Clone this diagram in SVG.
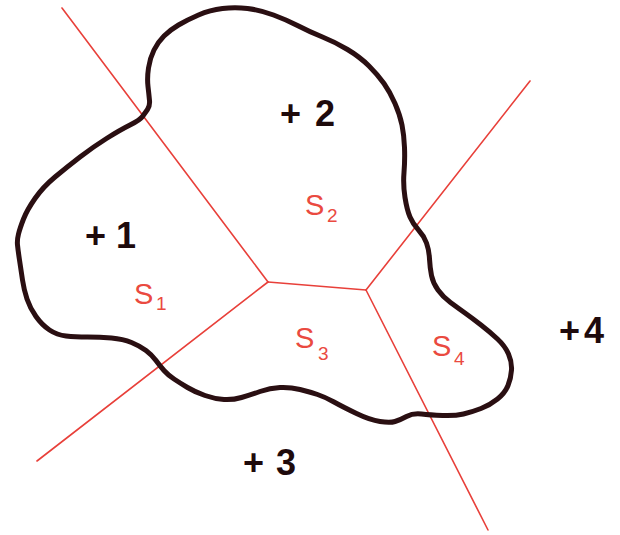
<svg xmlns="http://www.w3.org/2000/svg" width="620" height="535" viewBox="0 0 620 535">
<style>
.red{stroke:#e8403a;stroke-width:1.6;fill:none;stroke-linecap:round}
.blob{stroke:#2a0f12;stroke-width:5;fill:none;stroke-linejoin:round;stroke-linecap:round}
.pt{font-family:"Liberation Sans",Arial,sans-serif;font-weight:bold;font-size:36px;fill:#1e0a0c}
.lab{font-family:"Liberation Sans",Arial,sans-serif;font-size:29px;fill:#ea4a40}
.sub{font-size:19px}
</style>
<rect width="620" height="535" fill="#ffffff"/>
<g id="voronoi-edges">
<line class="red" x1="62" y1="8" x2="268" y2="282"/>
<line class="red" x1="268" y1="282" x2="37" y2="461"/>
<line class="red" x1="268" y1="282" x2="366" y2="290"/>
<line class="red" x1="366" y1="290" x2="530" y2="81"/>
<line class="red" x1="366" y1="290" x2="488" y2="530"/>
</g>
<g id="region">
<path class="blob" d="M142.5,116.5 Q145,113 147.5,109.5 Q150,106 149.5,100.5 Q149,95 148,86.5 Q147,78 148.5,68 Q150,58 154,50 Q158,42 164,36 Q170,30 178.5,25 Q187,20 198.5,15 Q210,10 222.5,8.5 Q235,7 247.5,8.5 Q260,10 273.5,15 Q287,20 298.5,26 Q310,32 322.5,37 Q335,42 347.5,49.5 Q360,57 369,66 Q378,75 384,83.5 Q390,92 395,103.5 Q400,115 402,125 Q404,135 404.5,147.5 Q405,160 404,172.5 Q403,185 405,197.5 Q407,210 410,217 Q413,224 418.5,230 Q424,236 426.5,243 Q429,250 429.5,259 Q430,268 431.5,275.5 Q433,283 438,290 Q443,297 450.5,302.5 Q458,308 465,313 Q472,318 481,325 Q490,332 497.5,339 Q505,346 508.5,354 Q512,362 511.5,370 Q511,378 508,385.5 Q505,393 497.5,399 Q490,405 481,408.5 Q472,412 463.5,414 Q455,416 442.5,415.5 Q430,415 421.5,414 Q413,413 406.5,416.5 Q400,420 395,421.5 Q390,423 380,421.5 Q370,420 356.5,413.5 Q343,407 334,402 Q325,397 317.5,394.5 Q310,392 300,389.5 Q290,387 280,387.5 Q270,388 260,391.5 Q250,395 241.5,397.5 Q233,400 224,399.5 Q215,399 205,395.5 Q195,392 187.5,387.5 Q180,383 174,379 Q168,375 164,370.5 Q160,366 156,360.5 Q152,355 146,350.5 Q140,346 131.5,342.5 Q123,339 111.5,338 Q100,337 87.5,337 Q75,337 66,336 Q57,335 49.5,330 Q42,325 36,316.5 Q30,308 27,299 Q24,290 22.5,280 Q21,270 19.5,260 Q18,250 17.5,245 Q17,240 18.5,234 Q20,228 23.5,219 Q27,210 35,198.5 Q43,187 55,177 Q67,167 80,157 Q93,147 106.5,138.5 Q120,130 130,125 Q140,120 142.5,116.5 Z"/>
</g>
<g id="site1"><text class="pt" x="85" y="248">+<tspan x="116">1</tspan></text></g>
<g id="site2"><text class="pt" x="280" y="126">+<tspan x="315">2</tspan></text></g>
<g id="site3"><text class="pt" x="243" y="475">+<tspan x="276">3</tspan></text></g>
<g id="site4"><text class="pt" x="559" y="343">+<tspan x="584">4</tspan></text></g>
<g id="S1"><text class="lab" x="134" y="304">S<tspan class="sub" x="156" y="310">1</tspan></text></g>
<g id="S2"><text class="lab" x="305" y="215">S<tspan class="sub" x="327" y="222">2</tspan></text></g>
<g id="S3"><text class="lab" x="295" y="348">S<tspan class="sub" x="318" y="360">3</tspan></text></g>
<g id="S4"><text class="lab" x="432" y="356">S<tspan class="sub" x="454" y="365">4</tspan></text></g>
</svg>
